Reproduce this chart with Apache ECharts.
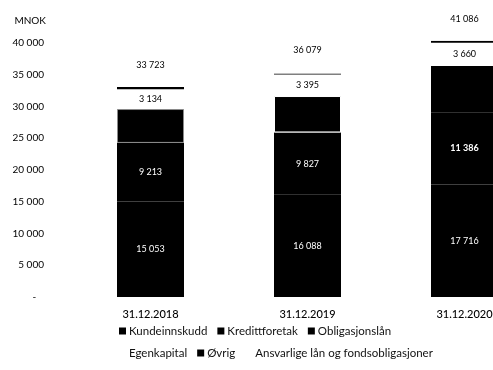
<!DOCTYPE html>
<html>
<head>
<meta charset="utf-8">
<script src="https://cdn.jsdelivr.net/npm/echarts@6/dist/echarts.min.js"></script>
<style>
  html, body { margin: 0; padding: 0; background: #fff; }
  #chart { width: 493px; height: 370px; }
</style>
</head>
<body>
<div id="chart"></div>
<script>
const categories = ["31.12.2018", "31.12.2019", "31.12.2020"];
const kundeinnskudd = [15053, 16088, 17716];
const kredittforetak = [9213, 9827, 11386];
const obligasjonslan = [5334, 5735, 7278]; // ikke merket, lest av figuren
const egenkapital = [3134, 3395, 3660];
const ovrig = [350, 150, 300]; // tynn strek
const ansvarlige = [639, 884, 746];
const totals = [33723, 36079, 41086];
const yTicks = { min: 0, max: 40000, interval: 5000 };

function fmt(v) {
  return String(v).replace(/\B(?=(\d{3})+(?!\d))/g, " ");
}

const font = "Lato";
const chart = echarts.init(document.getElementById("chart"));

// skillelinjer mellom segmentene (som i originalen)
const sepColors = ["#8a8a8a", "#ffffff", "#000000"];

const legendStyle = {
  icon: "rect", itemWidth: 7, itemHeight: 7, itemGap: 10,
  textStyle: { fontSize: 11.5, color: "#111", fontFamily: font, padding: [0, 0, 0, -2] }
};

const option = {
  animation: false,
  textStyle: { fontFamily: font },
  // siste stolpe går ut over kanten i originalen
  grid: { left: 72, width: 471, top: 43, bottom: 73, outerBoundsMode: "none", containLabel: false },
  legend: [
    Object.assign({ data: ["Kundeinnskudd", "Kredittforetak", "Obligasjonslån"], left: 114, top: 320 }, legendStyle),
    Object.assign({ data: ["Egenkapital", "Øvrig", "Ansvarlige lån og fondsobligasjoner"], left: 114, top: 342 }, legendStyle)
  ],
  xAxis: {
    type: "category",
    data: categories,
    axisLine: { show: false },
    axisTick: { show: false },
    axisLabel: { color: "#000", fontSize: 11, fontWeight: 500, margin: 12, fontFamily: font }
  },
  yAxis: {
    type: "value",
    min: yTicks.min, max: yTicks.max, interval: yTicks.interval,
    name: "MNOK",
    nameLocation: "end",
    nameGap: 17,
    nameTextStyle: { align: "right", padding: [0, 26, 0, 0], color: "#000", fontSize: 10, fontFamily: font },
    axisLine: { show: false },
    axisTick: { show: false },
    splitLine: { show: false },
    axisLabel: {
      color: "#000", fontSize: 10, margin: 28, fontFamily: font,
      formatter: v => (v === 0 ? "-   " : fmt(v))
    }
  },
  series: [
    {
      name: "Kundeinnskudd", type: "bar", stack: "a", barWidth: 67, clip: false,
      itemStyle: { color: "#000" },
      label: { show: true, position: "inside", color: "#fff", fontSize: 9, formatter: p => fmt(p.value) },
      data: kundeinnskudd
    },
    {
      name: "Kredittforetak", type: "bar", stack: "a", clip: false,
      itemStyle: { color: "#000" },
      label: { show: true, position: "inside", color: "#fff", fontSize: 9, formatter: p => fmt(p.value) },
      data: kredittforetak.map((v, i) => i === 2
        ? { value: v, label: { fontWeight: "bold" } }
        : v)
    },
    {
      name: "Obligasjonslån", type: "bar", stack: "a", clip: false,
      itemStyle: { color: "#000" },
      data: obligasjonslan.map((v, i) => ({
        value: v,
        itemStyle: { borderColor: sepColors[i], borderWidth: i === 2 ? 0 : 1 }
      }))
    },
    {
      name: "Egenkapital", type: "bar", stack: "a", clip: false,
      itemStyle: { color: "#fff" },
      label: { show: true, position: "inside", color: "#000", fontSize: 9, formatter: p => fmt(p.value) },
      data: egenkapital
    },
    {
      name: "Øvrig", type: "bar", stack: "a", clip: false,
      itemStyle: { color: "#000" },
      data: ovrig
    },
    {
      name: "Ansvarlige lån og fondsobligasjoner", type: "bar", stack: "a", clip: false,
      itemStyle: { color: "#fff" },
      label: {
        show: true, position: "top", distance: 13, color: "#000", fontSize: 9,
        formatter: p => fmt(totals[p.dataIndex])
      },
      data: ansvarlige
    }
  ]
};

chart.setOption(option);
</script>
</body>
</html>
